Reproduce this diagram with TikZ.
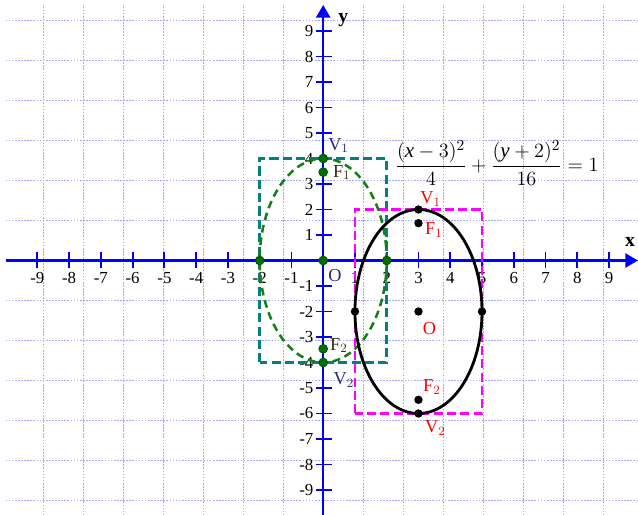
\documentclass[tikz,border=0pt]{standalone}
\usepackage{fontspec}
\setmainfont{Liberation Serif}
\usetikzlibrary{arrows.meta}
\definecolor{gridc}{RGB}{165,165,255}
\definecolor{axisc}{RGB}{0,0,255}
\definecolor{greenpt}{RGB}{0,110,0}
\definecolor{greenell}{RGB}{20,128,20}
\definecolor{tealc}{RGB}{0,128,128}
\definecolor{magc}{RGB}{255,0,255}
\definecolor{redc}{RGB}{255,0,0}
\definecolor{navyc}{RGB}{40,40,130}
\definecolor{darkc}{RGB}{50,40,20}
\begin{document}
\begin{tikzpicture}[x=0.794cm,y=0.6375cm,
  gridline/.style={draw=gridc, line width=0.7pt, dash pattern=on 1.2pt off 1pt},
  axisline/.style={draw=axisc, line width=1.8pt, -{Triangle[length=9pt,width=10pt]}},
  tickmark/.style={draw=axisc, line width=1.3pt},
  ticklab/.style={font=\fontsize{12}{13}\selectfont, inner sep=0pt},
  ptlab/.style={font=\fontsize{13}{14}\selectfont, inner sep=0pt, anchor=base west},
  redlab/.style={ptlab, text=redc},
  gpt/.style={circle, fill=greenpt, draw=black!70!green, line width=0.5pt, inner sep=0pt, minimum size=0.22cm},
  bpt/.style={circle, fill=black, inner sep=0pt, minimum size=0.21cm},
  tealrect/.style={draw=tealc, line width=1.8pt, dash pattern=on 6.5pt off 3pt},
  magrect/.style={draw=magc, line width=1.8pt, dash pattern=on 6.5pt off 3pt},
  greenellipse/.style={draw=greenell, line width=1.8pt, dash pattern=on 5.5pt off 3.5pt},
  blackellipse/.style={draw=black, line width=2pt},
  axlab/.style={font=\fontsize{14}{15}\selectfont\bfseries, inner sep=0pt, anchor=base west}
]
\useasboundingbox (-10.177,-9.98) rectangle (9.912,10.216);
% grid
\draw[gridline] (-10,-10) grid (9.95,10.02);
% axes
\draw[axisline] (-10,0) -- (9.91,0);
\draw[axisline] (0,-10) -- (0,10.02);
\foreach \i in {-9,-8,...,-1,1,2,...,9}{
  \draw[tickmark] (\i,0) ++(0,-0.2cm) -- ++(0,0.4cm);
  \draw[tickmark] (0,\i) ++(-0.18cm,0) -- ++(0.4cm,0);
  \node[ticklab, anchor=north, yshift=-0.3cm] (xl\i) at (\i,0) {\i};
  \node[ticklab, anchor=east, xshift=-0.24cm] (yl\i) at (0,\i) {\i};
}
\node[ptlab, text=navyc] (orig) at (0.15,-0.84) {O};
\node[axlab] (xlab) at (9.5,0.54) {x};
\node[axlab] (ylab) at (0.47,9.35) {y};
% rectangles
\draw[tealrect] (-2,-4) rectangle (2,4);
\draw[magrect] (1,-6) rectangle (5,2);
% ellipses
\draw[greenellipse] (0,0) ellipse [x radius=1.588cm, y radius=2.55cm];
\draw[blackellipse] (3,-2) ellipse [x radius=1.588cm, y radius=2.55cm];
% green points
\node[gpt] (gV1) at (0,4) {};
\node[gpt] (gF1) at (0,3.464) {};
\node[gpt] (gO) at (0,0) {};
\node[gpt] (gF2) at (0,-3.464) {};
\node[gpt] (gV2) at (0,-4) {};
\node[gpt] (gL) at (-2,0) {};
\node[gpt] (gR) at (2,0) {};
% black points
\node[bpt] (bV1) at (3,2) {};
\node[bpt] (bF1) at (3,1.464) {};
\node[bpt] (bO) at (3,-2) {};
\node[bpt] (bF2) at (3,-5.464) {};
\node[bpt] (bV2) at (3,-6) {};
\node[bpt] (bL) at (1,-2) {};
\node[bpt] (bR) at (5,-2) {};
% labels green ellipse
\node[ptlab, text=navyc] (lgV1) at (0.15,4.33) {V$_1$};
\node[ptlab, text=darkc] (lgF1) at (0.30,3.27) {F$_1$};
\node[ptlab, text=darkc] (lgF2) at (0.21,-3.52) {F$_2$};
\node[ptlab, text=navyc] (lgV2) at (0.32,-4.88) {V$_2$};
% labels black ellipse
\node[redlab] (lbV1) at (3.05,2.22) {V$_1$};
\node[redlab] (lbF1) at (3.2,1.0) {F$_1$};
\node[redlab] (lbO) at (3.13,-2.92) {O};
\node[redlab] (lbF2) at (3.14,-5.15) {F$_2$};
\node[redlab] (lbV2) at (3.2,-6.76) {V$_2$};
% equation
\node[font=\fontsize{15}{17}\selectfont, inner sep=0pt] (eq) at (5.47,3.82)
  {$\displaystyle\frac{(\textit{x}-3)^{2}}{4}+\frac{(\textit{y}+2)^{2}}{16}=1$};
\end{tikzpicture}
\end{document}
